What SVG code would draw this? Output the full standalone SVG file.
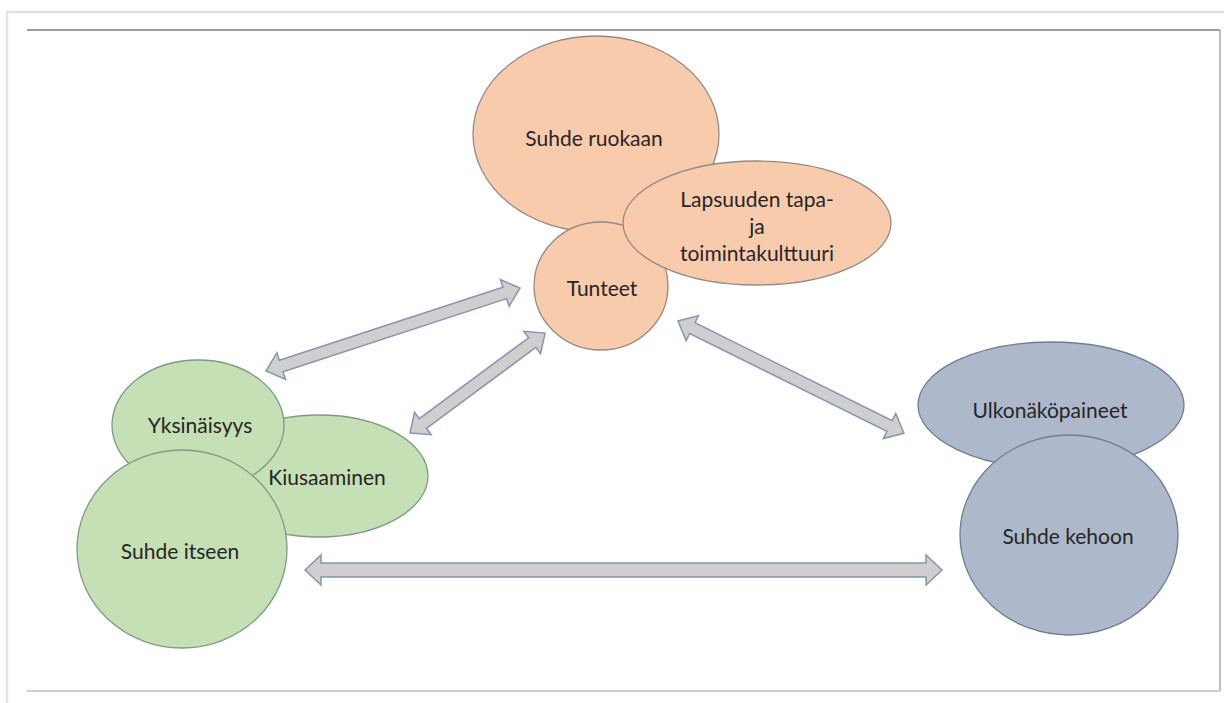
<svg xmlns="http://www.w3.org/2000/svg" width="1224" height="703" viewBox="0 0 1224 703">
  <style>
    .frame { fill: none; }
    .orange { fill: #F8CBAD; stroke: #958a84; stroke-width: 1.3; }
    .green { fill: #C5E0B4; stroke: #7f9a86; stroke-width: 1.3; }
    .blue { fill: #ADB9CA; stroke: #6d7d96; stroke-width: 1.3; }
    .arrow { fill: #D0CECE; stroke: #8497B0; stroke-width: 1.5; stroke-linejoin: miter; }
    .label { font-family: Lato, "Open Sans", "Liberation Sans", sans-serif; font-size: 21px; fill: #262626; text-anchor: middle; dominant-baseline: central; }
  </style>
  <rect width="1224" height="703" fill="#ffffff"/>

  <!-- page frame -->
  <g id="frame" class="frame">
    <path d="M7 706 V12 H1224" stroke="#e2e2e2" stroke-width="2.5"/>
    <line x1="27" y1="30" x2="1220" y2="30" stroke="#7a7a7a" stroke-width="1.5"/>
    <line x1="1220" y1="30" x2="1220" y2="691" stroke="#a8a8a8" stroke-width="1.5"/>
    <line x1="27" y1="691" x2="1220" y2="691" stroke="#cfcfcf" stroke-width="2"/>
  </g>

  <!-- connectors: double-headed block arrows -->
  <g id="connectors">
    <g transform="translate(266 371) rotate(-18.1)">
      <polygon class="arrow" points="0,0 16,-14 16,-6 251.2,-6 251.2,-14 267.2,0 251.2,14 251.2,6 16,6 16,14"/>
    </g>
    <g transform="translate(410 433) rotate(-36.5)">
      <polygon class="arrow" points="0,0 16,-14 16,-6 152,-6 152,-14 168,0 152,14 152,6 16,6 16,14"/>
    </g>
    <g transform="translate(678 321) rotate(26.4)">
      <polygon class="arrow" points="0,0 16,-14 16,-6 236.2,-6 236.2,-14 252.2,0 236.2,14 236.2,6 16,6 16,14"/>
    </g>
    <g transform="translate(305 570)">
      <polygon class="arrow" points="0,0 16,-15 16,-7 621,-7 621,-15 637,0 621,15 621,7 16,7 16,15"/>
    </g>
  </g>

  <!-- food cluster -->
  <g id="suhde-ruokaan">
    <ellipse class="orange" cx="596" cy="134" rx="123" ry="98"/>
    <text class="label" x="594" y="137">Suhde ruokaan</text>
  </g>
  <g id="tunteet">
    <ellipse class="orange" cx="601" cy="286" rx="67" ry="64"/>
    <text class="label" x="602" y="287">Tunteet</text>
  </g>
  <g id="lapsuuden">
    <ellipse class="orange" cx="757" cy="223" rx="134" ry="62"/>
    <text class="label" x="757" y="198">Lapsuuden tapa-</text>
    <text class="label" x="757" y="225">ja</text>
    <text class="label" x="757" y="252">toimintakulttuuri</text>
  </g>

  <!-- self cluster -->
  <g id="kiusaaminen">
    <ellipse class="green" cx="319" cy="476" rx="109" ry="61"/>
    <text class="label" x="327" y="476">Kiusaaminen</text>
  </g>
  <g id="yksinaisyys">
    <ellipse class="green" cx="198" cy="425" rx="86" ry="65"/>
    <text class="label" x="200" y="424">Yksinäisyys</text>
  </g>
  <g id="suhde-itseen">
    <ellipse class="green" cx="182" cy="549" rx="105" ry="99"/>
    <text class="label" x="180" y="550">Suhde itseen</text>
  </g>

  <!-- body cluster -->
  <g id="ulkonakopaineet">
    <ellipse class="blue" cx="1051" cy="405" rx="133" ry="63"/>
    <text class="label" x="1050" y="409">Ulkonäköpaineet</text>
  </g>
  <g id="suhde-kehoon">
    <ellipse class="blue" cx="1069" cy="535" rx="109" ry="100"/>
    <text class="label" x="1068" y="535">Suhde kehoon</text>
  </g>
</svg>
